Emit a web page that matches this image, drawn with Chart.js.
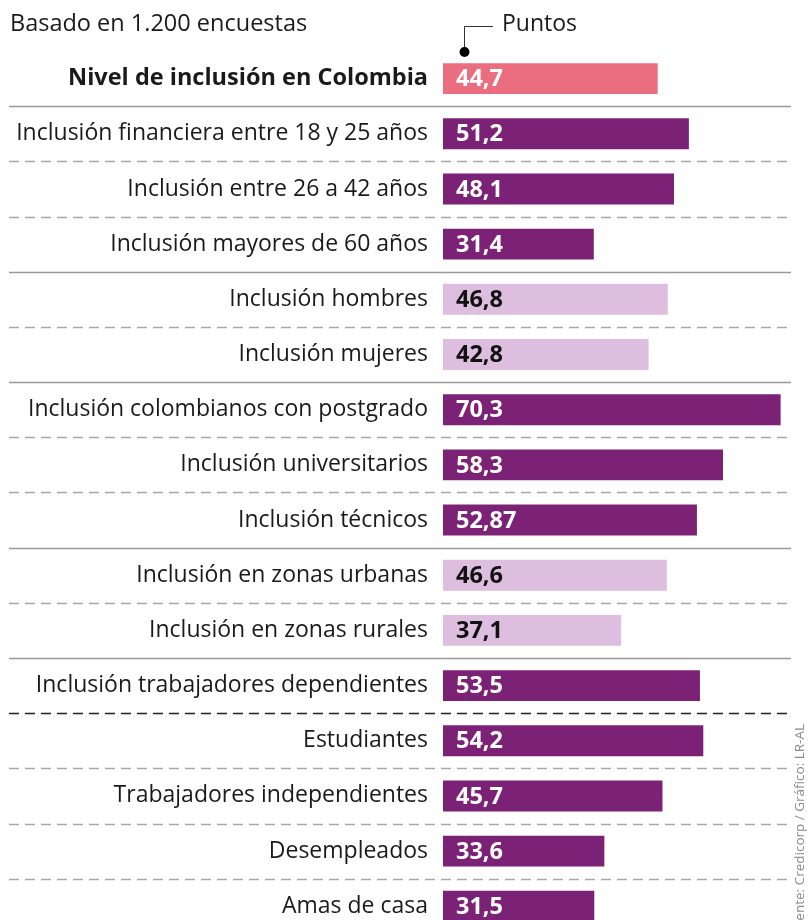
<!DOCTYPE html>
<html>
<head>
<meta charset="utf-8">
<script src="https://cdn.jsdelivr.net/npm/chart.js@4.4.1/dist/chart.umd.min.js"></script>
<style>
html,body{margin:0;padding:0;background:#fff;overflow:hidden}
#wrap{position:relative;width:808px;height:920px;overflow:hidden}
canvas{display:block}
</style>
</head>
<body>
<div id="wrap"><canvas id="c" width="808" height="963"></canvas></div>
<script>
// ---- data ----
const categories = [
  'Nivel de inclusión en Colombia',
  'Inclusión financiera entre 18 y 25 años',
  'Inclusión entre 26 a 42 años',
  'Inclusión mayores de 60 años',
  'Inclusión hombres',
  'Inclusión mujeres',
  'Inclusión colombianos con postgrado',
  'Inclusión universitarios',
  'Inclusión técnicos',
  'Inclusión en zonas urbanas',
  'Inclusión en zonas rurales',
  'Inclusión trabajadores dependientes',
  'Estudiantes',
  'Trabajadores independientes',
  'Desempleados',
  'Amas de casa'
];
const values = [44.7, 51.2, 48.1, 31.4, 46.8, 42.8, 70.3, 58.3, 52.87, 46.6, 37.1, 53.5, 54.2, 45.7, 33.6, 31.5];
const valueLabels = ['44,7','51,2','48,1','31,4','46,8','42,8','70,3','58,3','52,87','46,6','37,1','53,5','54,2','45,7','33,6','31,5'];
const groups = ['total','dark','dark','dark','light','light','dark','dark','dark','light','light','dark','dark','dark','dark','dark'];
const separators = ['solid','dashed','dashed','solid','dashed','solid','dashed','dashed','solid','dashed','solid','dark','dashed','dashed','dashed'];
const titleText = 'Basado en 1.200 encuestas';
const unitText = 'Puntos';
const sourceText = 'Fuente: Credicorp / Gráfico: LR-AL';

// ---- styles ----
const groupColors = {total:'#EB6E80', dark:'#7B2277', light:'#DDBEDE'};
const groupText = {total:'#ffffff', dark:'#ffffff', light:'#111111'};
const FONT = '"Open Sans", "Noto Sans", sans-serif';

const overlay = {
  id: 'overlay',
  beforeDatasetsDraw(chart) {
    const ctx = chart.ctx;
    const y = chart.scales.y;
    ctx.save();
    for (let i = 0; i < separators.length; i++) {
      const py = Math.round((y.getPixelForTick(i) + y.getPixelForTick(i + 1)) / 2) + 0.5;
      const t = separators[i];
      ctx.beginPath();
      ctx.lineWidth = 1.5;
      if (t === 'solid') { ctx.setLineDash([]); ctx.strokeStyle = '#9a9a9a'; }
      else if (t === 'dark') { ctx.setLineDash([10, 6]); ctx.strokeStyle = '#222222'; }
      else { ctx.setLineDash([10, 6]); ctx.strokeStyle = '#a8a8a8'; }
      ctx.moveTo(9, py);
      ctx.lineTo(791, py);
      ctx.stroke();
    }
    ctx.restore();
  },
  afterDatasetsDraw(chart) {
    const ctx = chart.ctx;
    const meta = chart.getDatasetMeta(0);
    ctx.save();
    ctx.font = 'bold 23.5px ' + FONT;
    ctx.textBaseline = 'middle';
    ctx.textAlign = 'left';
    meta.data.forEach((bar, i) => {
      ctx.fillStyle = groupText[groups[i]];
      ctx.fillText(valueLabels[i], bar.base + 13, bar.y + 1);
    });
    ctx.restore();
  },
  afterDraw(chart) {
    const ctx = chart.ctx;
    ctx.save();
    ctx.fillStyle = '#1a1a1a';
    ctx.textBaseline = 'middle';
    ctx.font = '23.5px ' + FONT;
    ctx.fillText(titleText, 10, 24);
    ctx.font = '23px ' + FONT;
    ctx.fillText(unitText, 502, 24);
    ctx.strokeStyle = '#333';
    ctx.lineWidth = 1;
    ctx.setLineDash([]);
    ctx.beginPath();
    ctx.moveTo(464.5, 52);
    ctx.lineTo(464.5, 26.5);
    ctx.lineTo(493, 26.5);
    ctx.stroke();
    ctx.beginPath();
    ctx.fillStyle = '#000';
    ctx.arc(464.5, 52, 5, 0, Math.PI * 2);
    ctx.fill();
    // source, rotated
    ctx.translate(800, 724);
    ctx.rotate(-Math.PI / 2);
    ctx.font = '13.5px ' + FONT;
    ctx.fillStyle = '#8a8a8a';
    ctx.textAlign = 'right';
    ctx.fillText(sourceText, 0, 0);
    ctx.restore();
  }
};

new Chart(document.getElementById('c'), {
  type: 'bar',
  data: {
    labels: categories,
    datasets: [{
      data: values,
      backgroundColor: groups.map(g => groupColors[g]),
      borderWidth: 0,
      barPercentage: 0.56,
      categoryPercentage: 1
    }]
  },
  options: {
    indexAxis: 'y',
    responsive: false,
    animation: false,
    events: [],
    layout: { padding: { top: 51, bottom: 0, left: 0, right: 0 } },
    plugins: { legend: { display: false }, tooltip: { enabled: false } },
    scales: {
      x: { display: false, min: 0, max: 76 },
      y: {
        grid: { display: false, drawTicks: false },
        border: { display: false },
        afterFit(s) { s.width = 443; },
        ticks: {
          autoSkip: false,
          padding: 15,
          color: '#1a1a1a',
          font: (c) => ({ family: FONT, size: c.index === 0 ? 23.5 : 23, weight: c.index === 0 ? 'bold' : 'normal' })
        }
      }
    }
  },
  plugins: [overlay]
});
</script>
</body>
</html>
